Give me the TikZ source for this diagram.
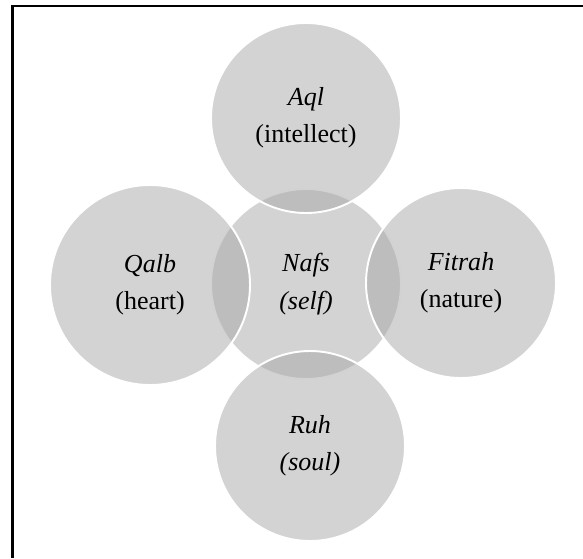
\documentclass[tikz,border=0pt]{standalone}
\usepackage{fontspec}
\setmainfont{Liberation Serif}
\definecolor{petal}{gray}{0.656}
\tikzset{
  part/.style={circle, fill=petal, fill opacity=0.5, text opacity=1,
    draw=white, line width=1.1pt, minimum size=38mm, align=center,
    font=\fontsize{14.8}{21.3}\selectfont},
  frame/.style={line width=1.2pt, black}
}
\begin{document}
\begin{tikzpicture}[x=0.2mm,y=-0.2mm]
  \useasboundingbox (0,0) rectangle (583,558);

  % centre first, the four around it on top
  \node[part] (nafs) at (306,284) {\textit{Nafs}\\\textit{(self)}};
  \node[part] (aql) at (306,118) {\textit{Aql}\\(intellect)};
  \node[part, minimum size=40mm] (qalb) at (150,285) {\textit{Qalb}\\(heart)};
  \node[part] (fitrah) at (461,283) {\textit{Fitrah}\\(nature)};
  \node[part] (ruh) at (310,446) {\textit{Ruh}\\\textit{(soul)}};

  \draw[frame] (583,6) -- (12.5,6) -- (12.5,558);
\end{tikzpicture}
\end{document}
